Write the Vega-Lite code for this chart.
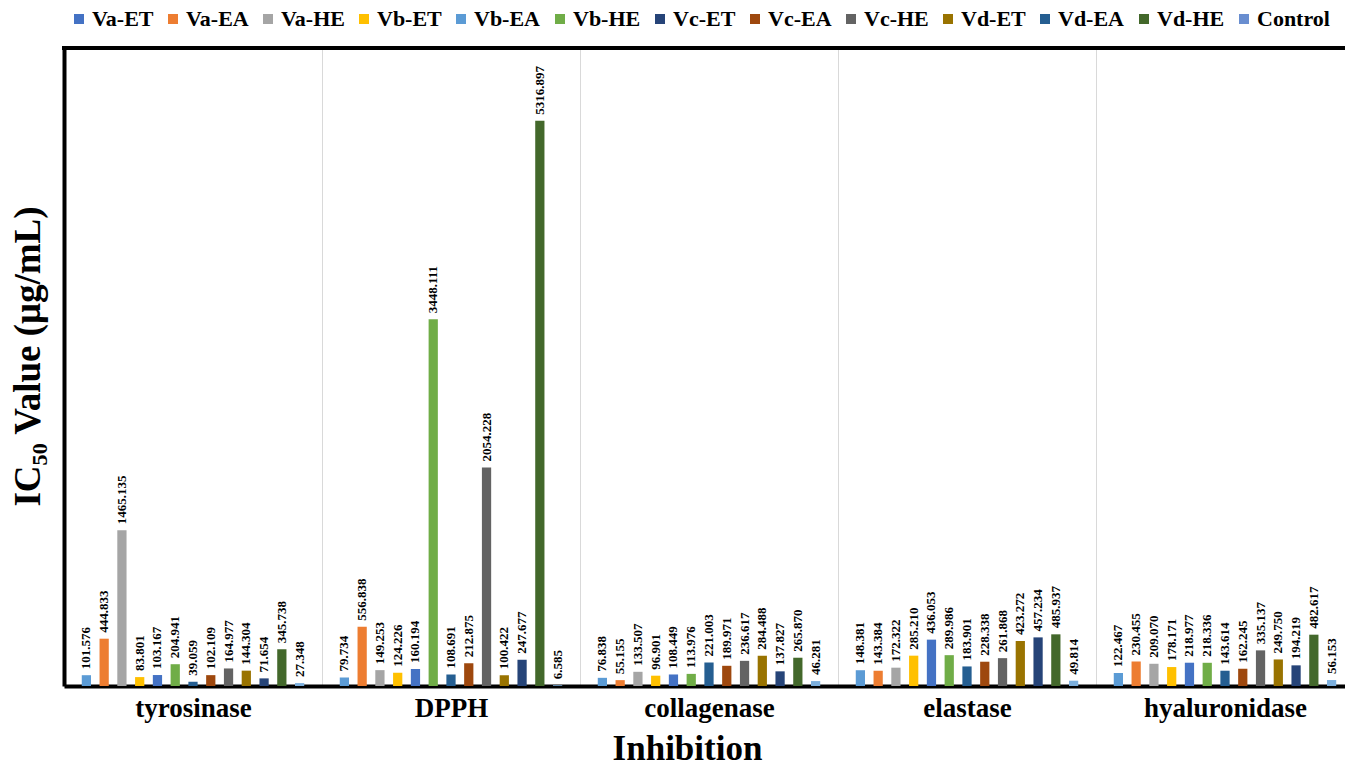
{
  "$schema": "https://vega.github.io/schema/vega-lite/v6.json",
  "width": 1281,
  "height": 638,
  "autosize": "none",
  "padding": {"left": 64, "top": 48, "right": 0, "bottom": 82},
  "background": "white",
  "config": {"view": {"stroke": null}, "font": "Liberation Serif"},
  "data": {
    "values": [
      {"assay": "tyrosinase", "series": "Va-ET", "value": 101.576},
      {"assay": "tyrosinase", "series": "Va-EA", "value": 444.833},
      {"assay": "tyrosinase", "series": "Va-HE", "value": 1465.135},
      {"assay": "tyrosinase", "series": "Vb-ET", "value": 83.801},
      {"assay": "tyrosinase", "series": "Vb-EA", "value": 103.167},
      {"assay": "tyrosinase", "series": "Vb-HE", "value": 204.941},
      {"assay": "tyrosinase", "series": "Vc-ET", "value": 39.059},
      {"assay": "tyrosinase", "series": "Vc-EA", "value": 102.109},
      {"assay": "tyrosinase", "series": "Vc-HE", "value": 164.977},
      {"assay": "tyrosinase", "series": "Vd-ET", "value": 144.304},
      {"assay": "tyrosinase", "series": "Vd-EA", "value": 71.654},
      {"assay": "tyrosinase", "series": "Vd-HE", "value": 345.738},
      {"assay": "tyrosinase", "series": "Control", "value": 27.348},
      {"assay": "DPPH", "series": "Va-ET", "value": 79.734},
      {"assay": "DPPH", "series": "Va-EA", "value": 556.838},
      {"assay": "DPPH", "series": "Va-HE", "value": 149.253},
      {"assay": "DPPH", "series": "Vb-ET", "value": 124.226},
      {"assay": "DPPH", "series": "Vb-EA", "value": 160.194},
      {"assay": "DPPH", "series": "Vb-HE", "value": 3448.111},
      {"assay": "DPPH", "series": "Vc-ET", "value": 108.691},
      {"assay": "DPPH", "series": "Vc-EA", "value": 212.875},
      {"assay": "DPPH", "series": "Vc-HE", "value": 2054.228},
      {"assay": "DPPH", "series": "Vd-ET", "value": 100.422},
      {"assay": "DPPH", "series": "Vd-EA", "value": 247.677},
      {"assay": "DPPH", "series": "Vd-HE", "value": 5316.897},
      {"assay": "DPPH", "series": "Control", "value": 6.585},
      {"assay": "collagenase", "series": "Va-ET", "value": 76.838},
      {"assay": "collagenase", "series": "Va-EA", "value": 55.155},
      {"assay": "collagenase", "series": "Va-HE", "value": 133.507},
      {"assay": "collagenase", "series": "Vb-ET", "value": 96.901},
      {"assay": "collagenase", "series": "Vb-EA", "value": 108.449},
      {"assay": "collagenase", "series": "Vb-HE", "value": 113.976},
      {"assay": "collagenase", "series": "Vc-ET", "value": 221.003},
      {"assay": "collagenase", "series": "Vc-EA", "value": 189.971},
      {"assay": "collagenase", "series": "Vc-HE", "value": 236.617},
      {"assay": "collagenase", "series": "Vd-ET", "value": 284.488},
      {"assay": "collagenase", "series": "Vd-EA", "value": 137.827},
      {"assay": "collagenase", "series": "Vd-HE", "value": 265.870},
      {"assay": "collagenase", "series": "Control", "value": 46.281},
      {"assay": "elastase", "series": "Va-ET", "value": 148.381},
      {"assay": "elastase", "series": "Va-EA", "value": 143.384},
      {"assay": "elastase", "series": "Va-HE", "value": 172.322},
      {"assay": "elastase", "series": "Vb-ET", "value": 285.210},
      {"assay": "elastase", "series": "Vb-EA", "value": 436.053},
      {"assay": "elastase", "series": "Vb-HE", "value": 289.986},
      {"assay": "elastase", "series": "Vc-ET", "value": 183.901},
      {"assay": "elastase", "series": "Vc-EA", "value": 228.338},
      {"assay": "elastase", "series": "Vc-HE", "value": 261.868},
      {"assay": "elastase", "series": "Vd-ET", "value": 423.272},
      {"assay": "elastase", "series": "Vd-EA", "value": 457.234},
      {"assay": "elastase", "series": "Vd-HE", "value": 485.937},
      {"assay": "elastase", "series": "Control", "value": 49.814},
      {"assay": "hyaluronidase", "series": "Va-ET", "value": 122.467},
      {"assay": "hyaluronidase", "series": "Va-EA", "value": 230.455},
      {"assay": "hyaluronidase", "series": "Va-HE", "value": 209.070},
      {"assay": "hyaluronidase", "series": "Vb-ET", "value": 178.171},
      {"assay": "hyaluronidase", "series": "Vb-EA", "value": 218.977},
      {"assay": "hyaluronidase", "series": "Vb-HE", "value": 218.336},
      {"assay": "hyaluronidase", "series": "Vc-ET", "value": 143.614},
      {"assay": "hyaluronidase", "series": "Vc-EA", "value": 162.245},
      {"assay": "hyaluronidase", "series": "Vc-HE", "value": 335.137},
      {"assay": "hyaluronidase", "series": "Vd-ET", "value": 249.750},
      {"assay": "hyaluronidase", "series": "Vd-EA", "value": 194.219},
      {"assay": "hyaluronidase", "series": "Vd-HE", "value": 482.617},
      {"assay": "hyaluronidase", "series": "Control", "value": 56.153}
    ]
  },
  "layer": [
    {
      "mark": {"type": "bar"},
      "encoding": {
        "x": {
          "field": "assay",
          "type": "nominal",
          "sort": null,
          "scale": {"paddingInner": 0, "paddingOuter": 0, "range": [0, 1290]},
          "axis": {
            "title": "Inhibition",
            "labelFont": "Liberation Serif",
            "labelFontSize": 27,
            "labelFontWeight": "bold",
            "labelColor": "#000",
            "labelAngle": 0,
            "labelPadding": 9,
            "ticks": false,
            "tickBand": "extent",
            "domainColor": "#000",
            "domainWidth": 4,
            "grid": true,
            "gridColor": "#D9D9D9",
            "gridWidth": 1,
            "titleFont": "Liberation Serif",
            "titleFontSize": 35,
            "titleFontWeight": "bold",
            "titleColor": "#000",
            "titleX": 623,
            "titleY": 62,
            "titleAlign": "center",
            "titleBaseline": "middle"
          }
        },
        "xOffset": {
          "field": "series",
          "type": "nominal",
          "sort": ["Va-ET", "Va-EA", "Va-HE", "Vb-ET", "Vb-EA", "Vb-HE", "Vc-ET", "Vc-EA", "Vc-HE", "Vd-ET", "Vd-EA", "Vd-HE", "Control"],
          "scale": {"paddingInner": 0.48, "paddingOuter": 1.1}
        },
        "y": {
          "field": "value",
          "type": "quantitative",
          "scale": {"domain": [0, 6000], "nice": false},
          "axis": {
            "title": "IC₅₀ Value (μg/mL)",
            "labels": false,
            "ticks": false,
            "grid": false,
            "domainColor": "#000",
            "domainWidth": 4,
            "titleFont": "Liberation Serif",
            "titleFontSize": 37,
            "titleFontWeight": "bold",
            "titleColor": "#000",
            "titleAngle": 270,
            "titleX": -36,
            "titleY": 308,
            "titleAlign": "center",
            "titleBaseline": "middle"
          }
        },
        "color": {
          "field": "series",
          "type": "nominal",
          "sort": ["Va-ET", "Va-EA", "Va-HE", "Vb-ET", "Vb-EA", "Vb-HE", "Vc-ET", "Vc-EA", "Vc-HE", "Vd-ET", "Vd-EA", "Vd-HE", "Control"],
          "scale": {
            "range": ["#5B9BD5", "#ED7D31", "#A5A5A5", "#FFC000", "#4472C4", "#70AD47", "#255E91", "#9E480E", "#636363", "#997300", "#264478", "#43682B", "#7CAFDD"]
          },
          "legend": null
        }
      }
    },
    {
      "mark": {"type": "text", "angle": 270, "align": "left", "baseline": "middle", "dx": 6, "font": "Liberation Serif", "fontWeight": "bold", "fontSize": 13, "color": "#000"},
      "encoding": {
        "x": {"field": "assay", "type": "nominal", "sort": null},
        "xOffset": {
          "field": "series",
          "type": "nominal",
          "sort": ["Va-ET", "Va-EA", "Va-HE", "Vb-ET", "Vb-EA", "Vb-HE", "Vc-ET", "Vc-EA", "Vc-HE", "Vd-ET", "Vd-EA", "Vd-HE", "Control"]
        },
        "y": {"field": "value", "type": "quantitative"},
        "text": {"field": "value", "type": "quantitative", "format": ".3f"}
      }
    },
    {
      "transform": [{"filter": "datum.assay === 'tyrosinase'"}],
      "mark": {"type": "square", "opacity": 0},
      "encoding": {
        "fill": {
          "field": "series",
          "type": "nominal",
          "scale": {
            "domain": ["Va-ET", "Va-EA", "Va-HE", "Vb-ET", "Vb-EA", "Vb-HE", "Vc-ET", "Vc-EA", "Vc-HE", "Vd-ET", "Vd-EA", "Vd-HE", "Control"],
            "range": ["#4472C4", "#ED7D31", "#A5A5A5", "#FFC000", "#5B9BD5", "#70AD47", "#264478", "#9E480E", "#636363", "#997300", "#255E91", "#43682B", "#698ED0"]
          },
          "legend": {
            "title": null,
            "orient": "none",
            "legendX": 4,
            "legendY": -40,
            "direction": "horizontal",
            "columns": 13,
            "padding": 0,
            "symbolType": "square",
            "symbolSize": 100,
            "symbolStrokeWidth": 0,
            "symbolOpacity": 1,
            "labelFont": "Liberation Serif",
            "labelFontSize": 22,
            "labelFontWeight": "bold",
            "labelColor": "#000",
            "labelOffset": 2,
            "labelLimit": 0,
            "columnPadding": 8
          }
        }
      }
    },
    {
      "mark": {"type": "rule", "color": "#000", "strokeWidth": 4, "strokeCap": "square"},
      "encoding": {"y": {"datum": 6000}}
    }
  ]
}
